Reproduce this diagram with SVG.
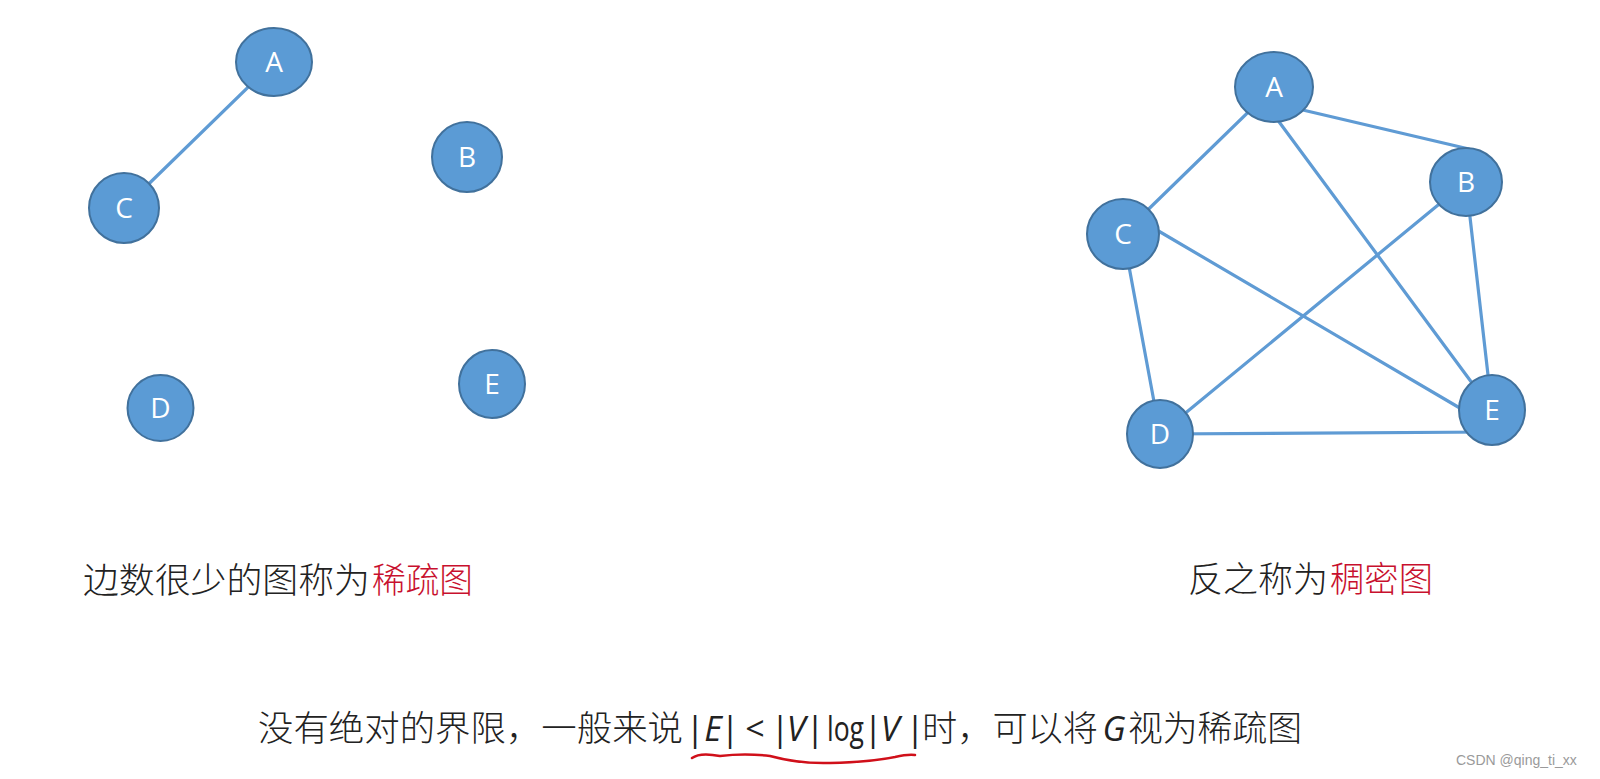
<svg xmlns="http://www.w3.org/2000/svg" width="1600" height="779" viewBox="0 0 1600 779">
<style>
.node ellipse{fill:#5b9bd5;stroke:#41719c;stroke-width:2}
.node text{fill:#ffffff;font-family:"Open Sans","Liberation Sans",sans-serif;font-size:28px;text-anchor:middle}
.edges line{stroke:#5f9bd4;stroke-width:3.2;stroke-linecap:round}
.cjk{font-family:"Noto Sans CJK SC","Noto Sans",sans-serif;font-size:35px;font-weight:300;fill:#222222}
.red{fill:#c8102e}
.math{font-family:"Open Sans","Liberation Sans",sans-serif;font-size:34px;fill:#222222;text-anchor:middle}
.it{font-style:italic}
.wm{font-family:"Liberation Sans",Arial,sans-serif;font-size:14px;fill:#9a9a9a}
</style>
<rect width="1600" height="779" fill="#ffffff"/>

<g class="edges" id="connectors">
  <line x1="274" y1="62" x2="124" y2="208"/>
  <line x1="1274" y1="87" x2="1123" y2="234"/>
  <line x1="1290" y1="107" x2="1469" y2="149"/>
  <line x1="1274" y1="115" x2="1475" y2="387"/>
  <line x1="1150" y1="226" x2="1470" y2="414"/>
  <line x1="1123" y1="234" x2="1160" y2="434"/>
  <line x1="1466" y1="182" x2="1160" y2="434"/>
  <line x1="1466" y1="182" x2="1492" y2="410"/>
  <line x1="1160" y1="434" x2="1492" y2="432"/>
</g>

<g class="node" id="sparse-A"><ellipse cx="274" cy="62" rx="38" ry="34"/><text x="274" y="72">A</text></g>
<g class="node" id="sparse-B"><ellipse cx="467" cy="157" rx="35" ry="35"/><text x="467" y="167">B</text></g>
<g class="node" id="sparse-C"><ellipse cx="124" cy="208" rx="35" ry="35"/><text x="124" y="218">C</text></g>
<g class="node" id="sparse-D"><ellipse cx="160.5" cy="408" rx="33" ry="33"/><text x="160.5" y="418">D</text></g>
<g class="node" id="sparse-E"><ellipse cx="492" cy="384" rx="33" ry="34"/><text x="492" y="394">E</text></g>

<g class="node" id="dense-A"><ellipse cx="1274" cy="87" rx="39" ry="35"/><text x="1274" y="97">A</text></g>
<g class="node" id="dense-B"><ellipse cx="1466" cy="182" rx="36" ry="34"/><text x="1466" y="192">B</text></g>
<g class="node" id="dense-C"><ellipse cx="1123" cy="234" rx="36" ry="35"/><text x="1123" y="244">C</text></g>
<g class="node" id="dense-D"><ellipse cx="1160" cy="434" rx="33" ry="34"/><text x="1160" y="444">D</text></g>
<g class="node" id="dense-E"><ellipse cx="1492" cy="410" rx="33" ry="35"/><text x="1492" y="420">E</text></g>

<text class="cjk" x="83" y="593" textLength="287" lengthAdjust="spacingAndGlyphs">边数很少的图称为</text>
<text class="cjk red" x="372" y="593" textLength="101" lengthAdjust="spacingAndGlyphs">稀疏图</text>

<text class="cjk" x="1188" y="592" textLength="140" lengthAdjust="spacingAndGlyphs">反之称为</text>
<text class="cjk red" x="1330" y="592" textLength="103" lengthAdjust="spacingAndGlyphs">稠密图</text>

<text class="cjk" x="258" y="741" textLength="425" lengthAdjust="spacingAndGlyphs">没有绝对的界限，一般来说</text>
<g class="math">
  <text x="695" y="741">|</text>
  <text x="713" y="741" class="it">E</text>
  <text x="730" y="741">|</text>
  <text x="755" y="741">&lt;</text>
  <text x="780" y="741">|</text>
  <text x="796" y="741" class="it">V</text>
  <text x="815" y="741">|</text>
  <text x="827" y="741" text-anchor="start" textLength="37" lengthAdjust="spacingAndGlyphs">log</text>
  <text x="873" y="741">|</text>
  <text x="890" y="741" class="it">V</text>
  <text x="915" y="741">|</text>
</g>
<text class="cjk" x="922" y="741" textLength="176" lengthAdjust="spacingAndGlyphs">时，可以将</text>
<text class="math it" x="1114" y="741">G</text>
<text class="cjk" x="1128" y="741" textLength="174" lengthAdjust="spacingAndGlyphs">视为稀疏图</text>

<path d="M692 758 Q700 752 720 756 Q745 753 770 756 Q800 764 830 763 Q870 762 895 757 Q908 754 915 755" fill="none" stroke="#d0101a" stroke-width="2.5" stroke-linecap="round"/>

<text class="wm" x="1456" y="765">CSDN @qing_ti_xx</text>
</svg>
